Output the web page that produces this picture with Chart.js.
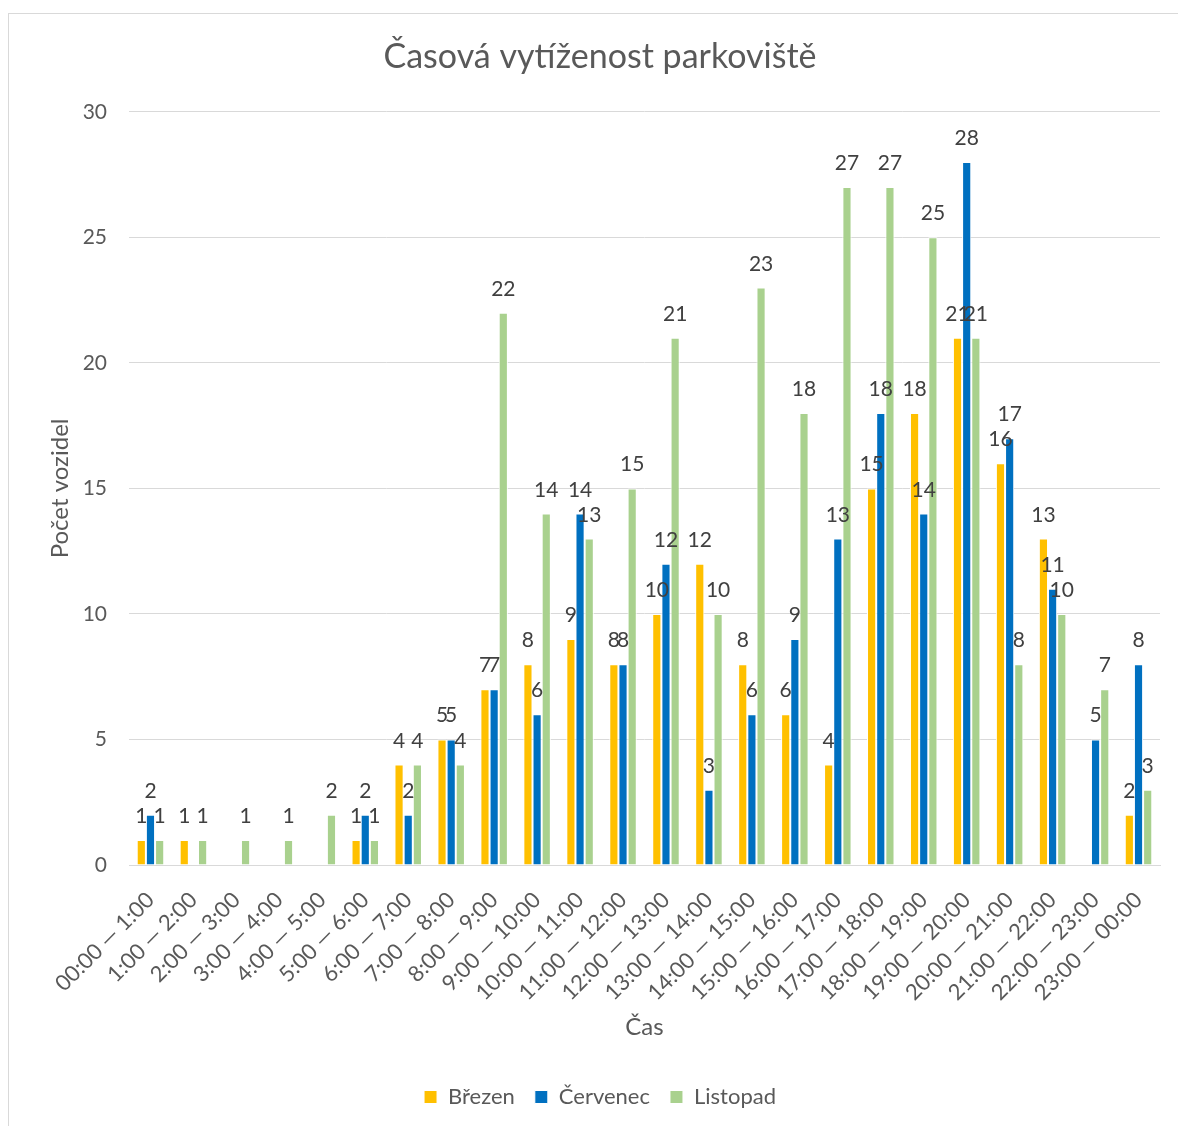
<!DOCTYPE html>
<html>
<head>
<meta charset="utf-8">
<script src="https://cdn.jsdelivr.net/npm/chart.js@4.4.1/dist/chart.umd.min.js"></script>
<style>
  body { margin: 0; background: #fff; }
</style>
</head>
<body>
<canvas id="myChart" width="1178" height="1126"></canvas>
<script>
// chart values (empty cells = null)
var categories = [
  "00:00 \u2014 1:00", "1:00 \u2014 2:00", "2:00 \u2014 3:00", "3:00 \u2014 4:00",
  "4:00 \u2014 5:00", "5:00 \u2014 6:00", "6:00 \u2014 7:00", "7:00 \u2014 8:00",
  "8:00 \u2014 9:00", "9:00 \u2014 10:00", "10:00 \u2014 11:00", "11:00 \u2014 12:00",
  "12:00 \u2014 13:00", "13:00 \u2014 14:00", "14:00 \u2014 15:00", "15:00 \u2014 16:00",
  "16:00 \u2014 17:00", "17:00 \u2014 18:00", "18:00 \u2014 19:00", "19:00 \u2014 20:00",
  "20:00 \u2014 21:00", "21:00 \u2014 22:00", "22:00 \u2014 23:00", "23:00 \u2014 00:00"
];
var seriesNames = ["B\u0159ezen", "\u010cervenec", "Listopad"];
var brezen = [1, 1, null, null, null, 1, 4, 5, 7, 8, 9, 8, 10, 12, 8, 6, 4, 15, 18, 21, 16, 13, null, 2];
var cervenec = [2, null, null, null, null, 2, 2, 5, 7, 6, 14, 8, 12, 3, 6, 9, 13, 18, 14, 28, 17, 11, 5, 8];
var listopad = [1, 1, 1, 1, 2, 1, 4, 4, 22, 14, 13, 15, 21, 10, 23, 18, 27, 27, 25, 21, 8, 10, 7, 3];
var yMin = 0;
var yMax = 30;
var yStep = 5;

var FONT = "Lato";
var GREY = "#595959";

// numbers over the bars + the thin frame round the chart
var barLabels = {
  id: "barLabels",
  beforeDraw: function(chart) {
    var ctx = chart.ctx;
    ctx.save();
    ctx.strokeStyle = "#d9d9d9";
    ctx.lineWidth = 1;
    ctx.strokeRect(8.5, 13.5, 1300, 1300);
    ctx.restore();
  },
  afterDatasetsDraw: function(chart) {
    var ctx = chart.ctx;
    ctx.save();
    ctx.font = "21px " + FONT;
    ctx.fillStyle = "#404040";
    ctx.textAlign = "center";
    ctx.textBaseline = "alphabetic";
    chart.data.datasets.forEach(function(ds, i) {
      chart.getDatasetMeta(i).data.forEach(function(bar, j) {
        if (ds.data[j] == null) return;
        ctx.fillText(ds.data[j], bar.x, bar.y - 17);
      });
    });
    ctx.restore();
  }
};

new Chart(document.getElementById("myChart"), {
  type: "bar",
  data: {
    labels: categories,
    datasets: [
      { label: seriesNames[0], data: brezen, backgroundColor: "#FFC000" },
      { label: seriesNames[1], data: cervenec, backgroundColor: "#0070C0" },
      { label: seriesNames[2], data: listopad, backgroundColor: "#A9D18E" }
    ]
  },
  options: {
    responsive: false,
    animation: false,
    layout: { padding: { top: 20, left: 40, right: 18, bottom: 8 } },
    datasets: {
      bar: {
        categoryPercentage: 0.64,
        barPercentage: 1,
        borderColor: "#ffffff",
        borderWidth: 1
      }
    },
    plugins: {
      title: {
        display: true,
        text: "\u010casov\u00e1 vyt\u00ed\u017eenost parkovi\u0161t\u011b",
        color: GREY,
        font: { family: FONT, size: 34, weight: "normal" },
        padding: { top: 17, bottom: 34 }
      },
      legend: {
        position: "bottom",
        labels: {
          color: GREY,
          font: { family: FONT, size: 22 },
          boxWidth: 13,
          boxHeight: 13,
          padding: 20
        }
      },
      tooltip: { enabled: false }
    },
    scales: {
      x: {
        grid: { display: false },
        border: { color: "#d9d9d9" },
        ticks: {
          color: GREY,
          font: { family: FONT, size: 22 },
          maxRotation: 45,
          minRotation: 45,
          autoSkip: false,
          padding: 14
        },
        title: {
          display: true,
          text: "\u010cas",
          color: GREY,
          font: { family: FONT, size: 24 },
          padding: { top: 10, bottom: 24 }
        },
        afterFit: function(scale) { scale.height = 201; }
      },
      y: {
        min: yMin,
        max: yMax,
        grid: { color: "#d9d9d9", drawTicks: false },
        border: { display: false },
        ticks: {
          stepSize: yStep,
          color: GREY,
          font: { family: FONT, size: 21 },
          padding: 22
        },
        title: {
          display: true,
          text: "Po\u010det vozidel",
          color: GREY,
          font: { family: FONT, size: 24 },
          padding: { top: 6, bottom: 0 }
        },
        afterFit: function(scale) { scale.width = 89; }
      }
    }
  },
  plugins: [barLabels]
});
</script>
</body>
</html>
